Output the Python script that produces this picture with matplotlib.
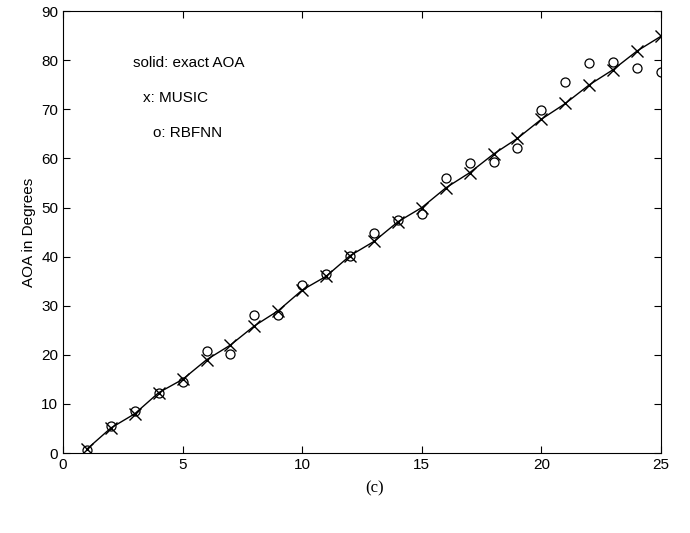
import matplotlib.pyplot as plt

# sample index
idx = list(range(1, 26))
# exact angle of arrival (solid line)
exact_aoa = [0.8, 5.1, 8.0, 12.3, 15.0, 19.0, 22.0, 25.9, 29.0, 33.2, 36.0, 40.2, 43.1,
             47.1, 50.0, 54.0, 57.1, 60.9, 64.1, 68.0, 71.2, 75.0, 78.1, 81.9, 84.9]
# MUSIC estimates (x)
music = [0.8, 5.1, 8.0, 12.3, 15.0, 19.0, 22.0, 25.9, 29.0, 33.2, 36.0, 40.2, 43.1,
         47.1, 50.0, 54.0, 57.1, 60.9, 64.1, 68.0, 71.2, 75.0, 78.1, 81.9, 84.9]
# RBFNN estimates (o)
rbfnn = [0.6, 5.6, 8.6, 12.3, 14.4, 20.8, 20.1, 28.1, 28.1, 34.3, 36.5, 40.2, 44.9,
         47.4, 48.7, 56.0, 59.1, 59.3, 62.2, 69.9, 75.5, 79.4, 79.7, 78.5, 77.6]

plt.rcParams['font.family'] = ['Liberation Sans', 'DejaVu Sans']

fig = plt.figure(figsize=(6.9, 5.33), dpi=100)
ax = fig.add_axes([0.0913, 0.150, 0.8667, 0.829])

ax.plot(idx, exact_aoa, color='black', linewidth=1.0)
ax.plot(idx, music, linestyle='none', marker='x', markersize=8, markeredgewidth=1.0, color='black')
ax.plot(idx, rbfnn, linestyle='none', marker='o', markersize=6.5, markerfacecolor='none',
        markeredgewidth=0.9, color='black')

ax.set_xlim(0, 25)
ax.set_ylim(0, 90)
ax.set_xticks([0, 5, 10, 15, 20, 25])
ax.set_yticks(range(0, 91, 10))
ax.tick_params(direction='in', top=True, right=True, labelsize=11, length=5)
ax.set_ylabel('AOA in Degrees', fontsize=11)

ax.text(2.93, 79.4, 'solid: exact AOA', fontsize=11, va='center')
ax.text(3.34, 72.3, 'x: MUSIC', fontsize=11, va='center')
ax.text(3.76, 65.2, 'o: RBFNN', fontsize=11, va='center')

fig.text(0.543, 0.084, '(c)', fontsize=12, family='Liberation Serif', ha='center', va='center')

fig.savefig('out.png', dpi=100)
